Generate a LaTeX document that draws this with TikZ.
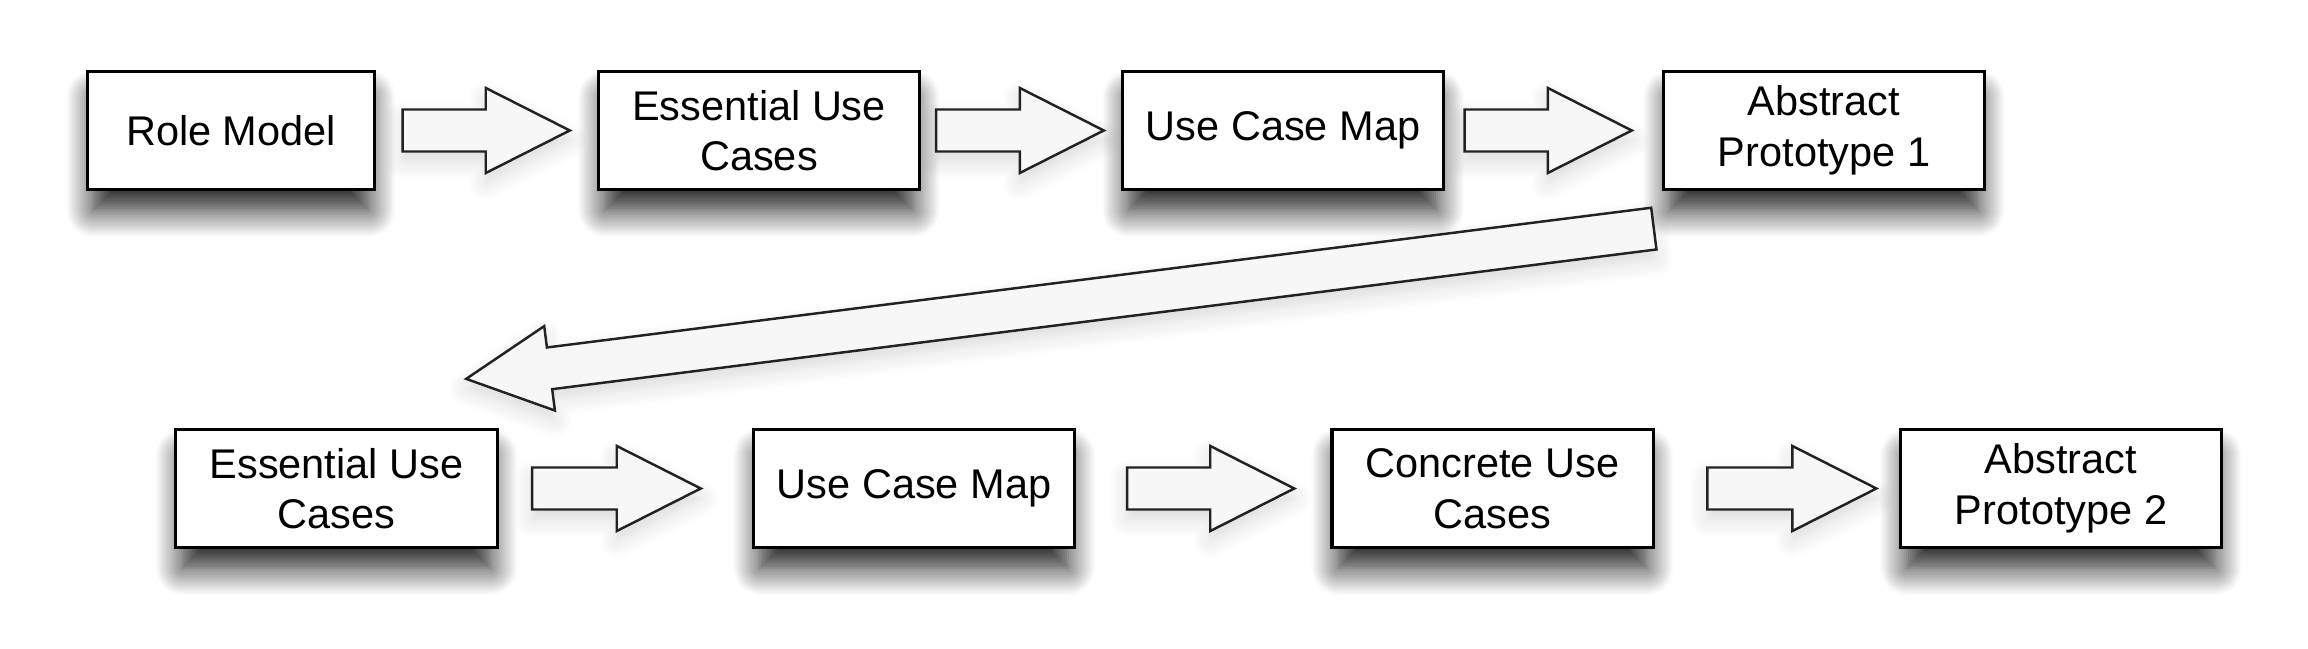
\documentclass[tikz,border=0pt]{standalone}
\usepackage{fontspec}
\setmainfont{Liberation Sans}
\usepackage{tikz}
\usetikzlibrary{calc,shadows.blur}
\definecolor{edge}{HTML}{000000}
\definecolor{flowline}{HTML}{222222}
\definecolor{flowfill}{HTML}{F7F7F7}
\tikzset{
  box/.style={draw=edge, line width=0.9pt, fill=white, align=center,
    minimum width=3.21cm, minimum height=1.18cm, inner sep=0pt,
    font=\fontsize{11.8}{14.4}\selectfont,
    blur shadow={shadow xshift=0pt, shadow yshift=-0.24cm, shadow scale=0.96,
      shadow blur steps=14, shadow blur radius=0.28cm, shadow opacity=90}},
  flow/.style={draw=flowline, line width=0.7pt, fill=flowfill, line join=miter,
    blur shadow={shadow xshift=0pt, shadow yshift=-0.1cm,
      shadow blur steps=10, shadow blur radius=0.18cm, shadow opacity=15}},
}
% hollow block arrow from tail #1 to tip #2
\newcommand{\blockarrow}[2]{%
  \coordinate (hb) at ($(#2)!0.84cm!(#1)$);
  \draw[flow] ($(#1)!0.21cm!90:(#2)$) -- ($(hb)!0.21cm!90:(#2)$)
    -- ($(hb)!0.425cm!90:(#2)$) -- (#2)
    -- ($(hb)!0.425cm!-90:(#2)$) -- ($(hb)!0.21cm!-90:(#2)$)
    -- ($(#1)!0.21cm!-90:(#2)$) -- cycle;
}
\begin{document}
\begin{tikzpicture}[x=0.01cm, y=-0.01cm]
  \useasboundingbox (0,0) rectangle (2308,649);
  % first pass
  \node[box, minimum width=2.87cm] (rm) at (231,130.5) {Role Model};
  \node[box] (euc1) at (759,130.5) {Essential Use\\Cases};
  \node[box] (ucm1) at (1283,130.5) {Use Case Map};
  \node[box] (ap1) at (1824,130.5) {Abstract\\Prototype 1};
  % second pass
  \node[box] (euc2) at (336.5,488.5) {Essential Use\\Cases};
  \node[box] (ucm2) at (914,488.5) {Use Case Map};
  \node[box] (cuc) at (1492.5,488.5) {Concrete Use\\Cases};
  \node[box] (ap2) at (2061,488.5) {Abstract\\Prototype 2};
  % arrow ends
  \coordinate (a1t) at ([xshift=0.265cm]rm.east);
  \coordinate (a1h) at ([xshift=-0.27cm]euc1.west);
  \coordinate (a2t) at ([xshift=0.15cm]euc1.east);
  \coordinate (a2h) at ([xshift=-0.17cm]ucm1.west);
  \coordinate (a3t) at ([xshift=0.195cm]ucm1.east);
  \coordinate (a3h) at ([xshift=-0.30cm]ap1.west);
  \coordinate (backt) at ([shift={(-8,37.5)}]ap1.south west);
  \coordinate (backh) at ([shift={(-32.5,-49)}]euc2.north east);
  \coordinate (b1t) at ([xshift=0.335cm]euc2.east);
  \coordinate (b1h) at ([xshift=-0.51cm]ucm2.west);
  \coordinate (b2t) at ([xshift=0.51cm]ucm2.east);
  \coordinate (b2h) at ([xshift=-0.36cm]cuc.west);
  \coordinate (b3t) at ([xshift=0.526cm]cuc.east);
  \coordinate (b3h) at ([xshift=-0.224cm]ap2.west);
  \blockarrow{a1t}{a1h}
  \blockarrow{a2t}{a2h}
  \blockarrow{a3t}{a3h}
  \blockarrow{backt}{backh}
  \blockarrow{b1t}{b1h}
  \blockarrow{b2t}{b2h}
  \blockarrow{b3t}{b3h}
\end{tikzpicture}
\end{document}
